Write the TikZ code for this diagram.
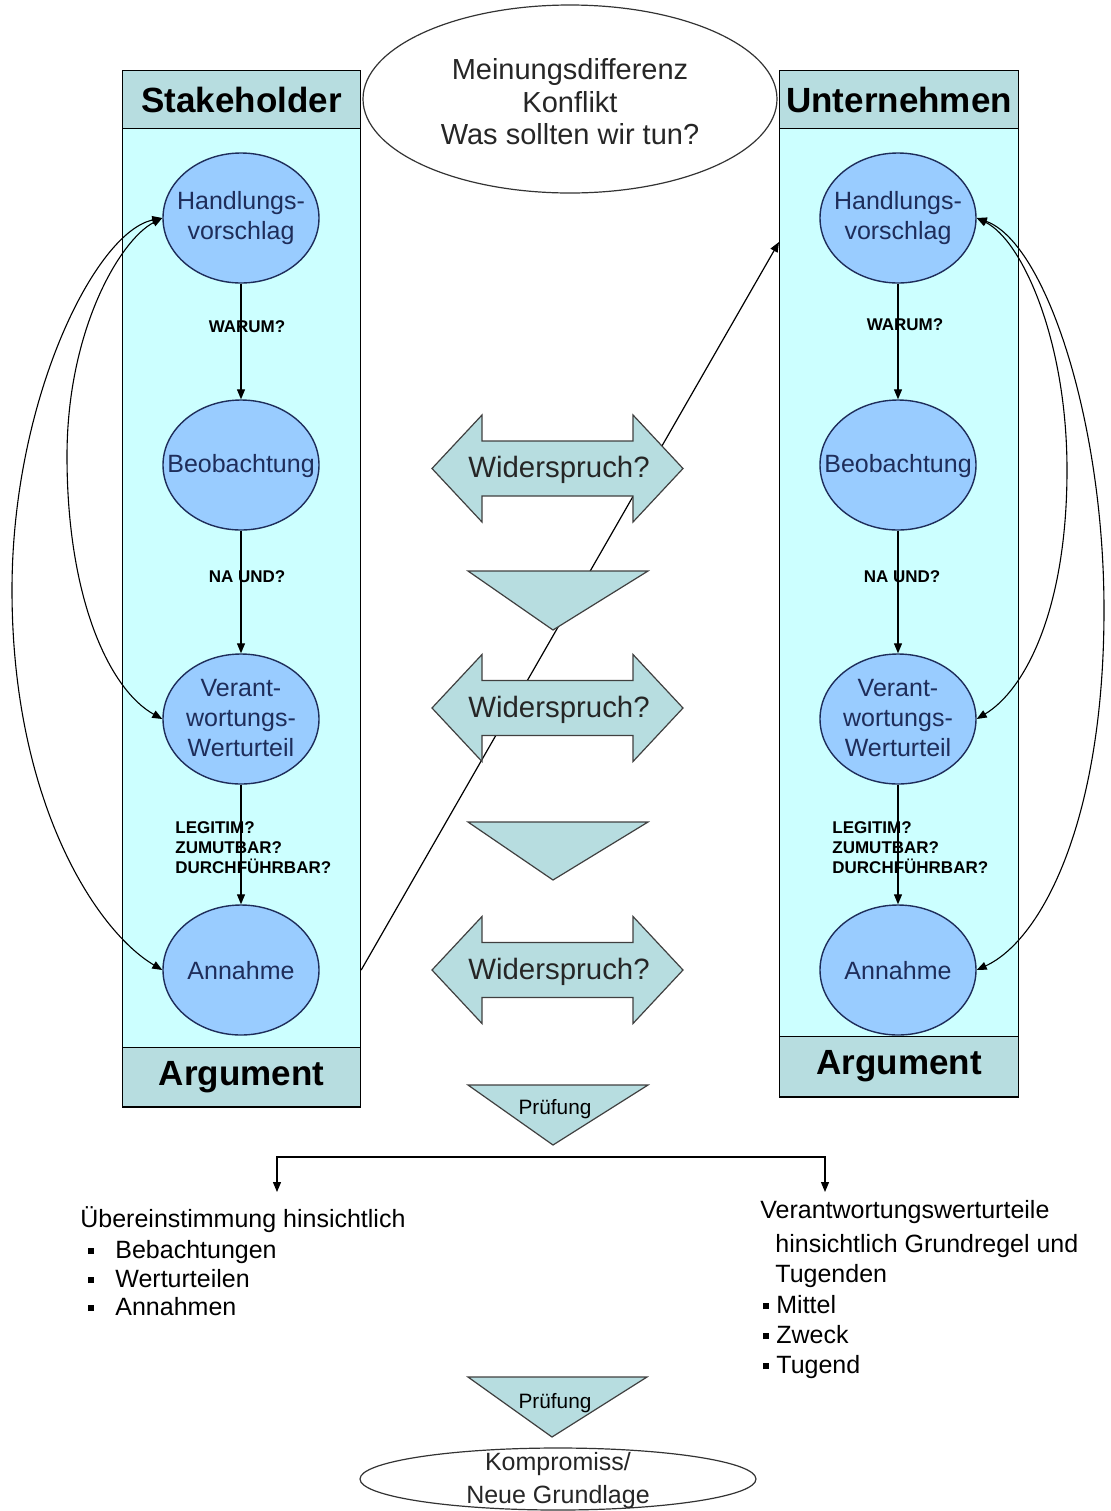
\documentclass[tikz,border=0pt]{standalone}
\usepackage{fontspec}
\setmainfont{Liberation Sans}
\usetikzlibrary{shapes.geometric,arrows.meta}
\definecolor{hdr}{RGB}{183,221,224}
\definecolor{bodyc}{RGB}{204,255,255}
\definecolor{bubc}{RGB}{153,204,255}
\definecolor{navy}{RGB}{30,45,90}
\newcommand{\sqb}{\raisebox{2pt}{\rule{3pt}{3pt}}}
\begin{document}
\begin{tikzpicture}[x=0.5pt,y=-0.5pt,
  rect/.style={draw=black, line width=0.6pt, inner sep=0pt},
  bubble/.style={ellipse, draw=navy, fill=bubc, line width=0.7pt, minimum width=78pt, minimum height=65pt, inner sep=0pt},
  ctext/.style={text=navy, align=center, font=\fontsize{12.5}{15}\selectfont, inner sep=0pt},
  flow/.style={-{Triangle[length=5pt,width=4pt]}, line width=0.6pt},
  biflow/.style={{Triangle[length=5pt,width=4pt]}-{Triangle[length=5pt,width=4pt]}, line width=0.55pt},
  qlabel/.style={font=\bfseries\fontsize{8.5}{10}\selectfont, inner sep=0pt, align=left},
  hdrtext/.style={font=\bfseries\fontsize{17.5}{20}\selectfont, inner sep=0pt},
  shp/.style={draw=black!75, fill=hdr, line width=0.6pt},
  wtext/.style={font=\fontsize{14.7}{17}\selectfont, text=black!85, inner sep=0pt},
  ptext/.style={font=\fontsize{10.4}{12}\selectfont, inner sep=0pt},
  btext/.style={font=\fontsize{12.5}{15}\selectfont, inner sep=0pt, anchor=base west},
  widarr/.pic={
    \draw[shp] (-125.5,0) -- (-75.5,-53.5) -- (-75.5,-27.5) -- (75.5,-27.5) -- (75.5,-53.5)
      -- (125.5,0) -- (75.5,53.5) -- (75.5,27.5) -- (-75.5,27.5) -- (-75.5,53.5) -- cycle;
    \node[wtext] (-t) at (1.5,1.5) {Widerspruch?};
  }
]
\useasboundingbox (0,0) rectangle (1110,1511);

% ---------- left column ----------
\node[rect, fill=bodyc, minimum width=119pt, minimum height=518.5pt, anchor=north west] (Lbox) at (122,70) {};
\node[rect, fill=hdr, minimum width=119pt, minimum height=29pt, anchor=north west] (Lhead) at (122,70) {};
\node[rect, fill=hdr, minimum width=119pt, minimum height=29.5pt, anchor=south west] (Lfoot) at (122,1107) {};
\node[hdrtext] (Lht) at (Lhead) {Stakeholder};
\node[hdrtext] (Lft) at (Lfoot) {Argument};

% ---------- right column ----------
\node[rect, fill=bodyc, minimum width=119.5pt, minimum height=513.5pt, anchor=north west] (Rbox) at (779,70) {};
\node[rect, fill=hdr, minimum width=119.5pt, minimum height=29pt, anchor=north west] (Rhead) at (779,70) {};
\node[rect, fill=hdr, minimum width=119.5pt, minimum height=30pt, anchor=south west] (Rfoot) at (779,1097) {};
\node[hdrtext] (Rht) at (Rhead) {Unternehmen};
\node[hdrtext] (Rft) at (Rfoot) {Argument};

% ---------- bubbles ----------
\node[bubble] (LH) at (241,218) {};
\node[bubble] (LB) at (241,465) {};
\node[bubble] (LV) at (241,719) {};
\node[bubble] (LA) at (241,970) {};
\node[bubble] (RH) at (898,218) {};
\node[bubble] (RB) at (898,465) {};
\node[bubble] (RV) at (898,719) {};
\node[bubble] (RA) at (898,970) {};

\node[ctext] (LHt) at (241,218) {Handlungs-\\vorschlag};
\node[ctext] (LBt) at (241,466) {Beobachtung};
\node[ctext] (LVt) at (241,718) {Verant-\\wortungs-\\Werturteil};
\node[ctext] (LAt) at (241,971) {Annahme};
\node[ctext] (RHt) at (898,218) {Handlungs-\\vorschlag};
\node[ctext] (RBt) at (898,466) {Beobachtung};
\node[ctext] (RVt) at (898,718) {Verant-\\wortungs-\\Werturteil};
\node[ctext] (RAt) at (898,971) {Annahme};

% vertical flow
\draw[flow] (LH) -- (LB);
\draw[flow] (LB) -- (LV);
\draw[flow] (LV) -- (LA);
\draw[flow] (RH) -- (RB);
\draw[flow] (RB) -- (RV);
\draw[flow] (RV) -- (RA);

% edge labels
\node[qlabel] (lq1) at (247,327) {WARUM?};
\node[qlabel] (lq2) at (247,577) {NA UND?};
\node[qlabel, anchor=west] (lq3) at (175,848) {LEGITIM?\\ZUMUTBAR?\\DURCHFÜHRBAR?};
\node[qlabel] (rq1) at (905,325) {WARUM?};
\node[qlabel] (rq2) at (902,577) {NA UND?};
\node[qlabel, anchor=west] (rq3) at (832,848) {LEGITIM?\\ZUMUTBAR?\\DURCHFÜHRBAR?};

% ---------- side curves ----------
\coordinate (lw1) at (67,456);
\coordinate (lw2) at (12,590);
\coordinate (rw1) at (1067,470);
\coordinate (rw2) at (1104,610);
\draw[biflow] (LH.west) .. controls (120,240) and (67,330) .. (lw1)
  .. controls (67,600) and (110,690) .. (LV.west);
\draw[biflow] (LH.west) .. controls (95,232) and (12,400) .. (lw2)
  .. controls (12,800) and (95,930) .. (LA.west);
\draw[biflow] (RH.east) .. controls (1022,240) and (1067,340) .. (rw1)
  .. controls (1067,610) and (1025,690) .. (RV.east);
\draw[biflow] (RH.east) .. controls (1045,242) and (1104,420) .. (rw2)
  .. controls (1104,820) and (1042,940) .. (RA.east);

% ---------- diagonal ----------
\coordinate (dS) at (Lbox.east |- LA.center);
\coordinate (dE) at (779,242);
\draw[flow] (dS) -- (dE);

% ---------- middle shapes ----------
\pic (w1) at (557.5,468.5) {widarr};
\pic (w2) at (557.5,708) {widarr};
\pic (w3) at (557.5,970) {widarr};
\draw[shp] (468,571) -- (648,571) -- (553,630) -- cycle;
\draw[shp] (468,822) -- (648,822) -- (553,880) -- cycle;
\draw[shp] (468,1085) -- (648,1085) -- (553,1145) -- cycle;
\node[ptext] (p1) at (555,1109) {Prüfung};
\draw[shp] (468,1377) -- (647,1377) -- (552,1437) -- cycle;
\node[ptext] (p2) at (555,1403) {Prüfung};

% ---------- top ellipse ----------
\node[ellipse, draw=black!80, fill=white, line width=0.6pt, minimum width=207pt, minimum height=94pt, inner sep=0pt] (conf) at (570,99) {};
\node[font=\fontsize{14.5}{16.2}\selectfont, align=center, inner sep=0pt, text=black!85] (conft) at (570,102) {Meinungsdifferenz\\Konflikt\\Was sollten wir tun?};

% ---------- branch ----------
\coordinate (bL) at (277,1192);
\coordinate (bR) at (825,1192);
\coordinate (bM) at (551,1157);
\draw[biflow, line width=0.6pt] (bL) |- (bM) -| (bR);

% ---------- bottom texts ----------
\node[btext] (l1) at (80,1227) {Übereinstimmung hinsichtlich};
\node[btext] (l2) at (88,1258) {\sqb\hspace{10.5pt}Bebachtungen};
\node[btext] (l3) at (88,1287) {\sqb\hspace{10.5pt}Werturteilen};
\node[btext] (l4) at (88,1315) {\sqb\hspace{10.5pt}Annahmen};

\node[btext] (r1) at (760,1218) {Verantwortungswerturteile};
\node[btext] (r2) at (775,1252) {hinsichtlich Grundregel und};
\node[btext] (r3) at (775,1282) {Tugenden};
\node[btext] (r4) at (763,1313) {\sqb\hspace{3.5pt}Mittel};
\node[btext] (r5) at (763,1343) {\sqb\hspace{3.5pt}Zweck};
\node[btext] (r6) at (763,1373) {\sqb\hspace{3.5pt}Tugend};

% ---------- bottom ellipse ----------
\node[ellipse, draw=black!80, fill=white, line width=0.6pt, minimum width=198pt, minimum height=31pt, inner sep=0pt] (komp) at (558,1479) {};
\node[font=\fontsize{12.5}{16.5}\selectfont, align=center, inner sep=0pt, text=black!85] (kompt) at (558,1481) {Kompromiss/\\Neue Grundlage};
\end{tikzpicture}
\end{document}
